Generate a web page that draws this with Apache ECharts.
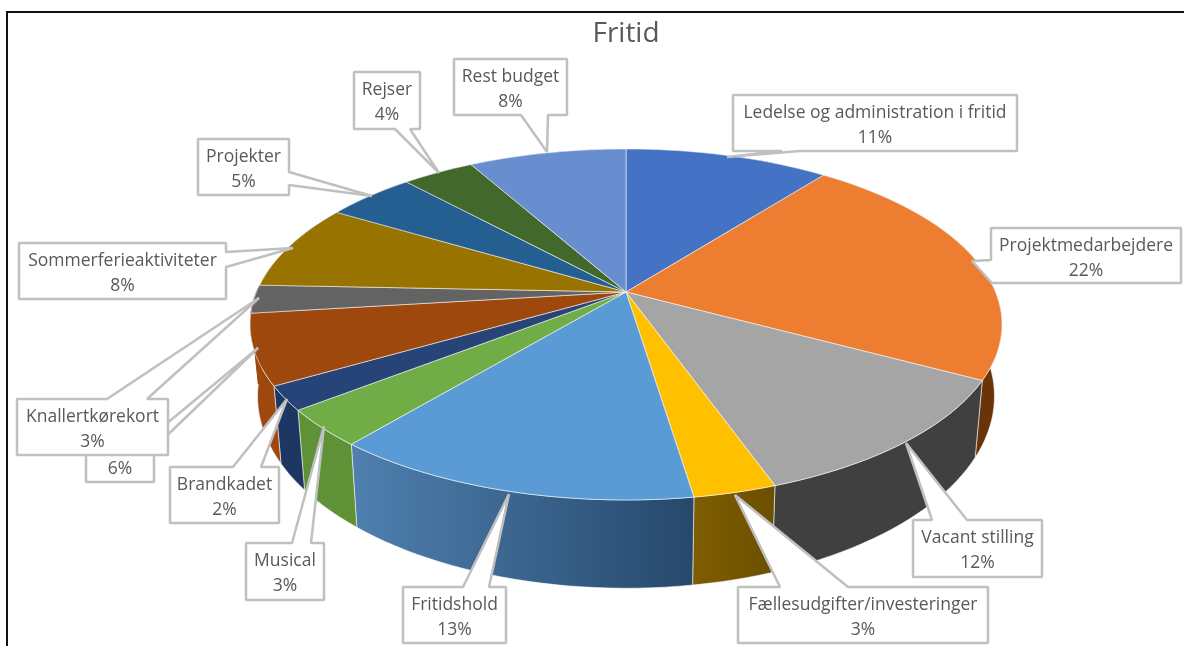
<!DOCTYPE html>
<html><head><meta charset="utf-8">
<style>html,body{margin:0;padding:0;background:#fff}#c{width:1184px;height:646px}</style>
<script src="https://cdn.jsdelivr.net/npm/echarts@6/dist/echarts.min.js"></script>
</head><body><div id="c"></div>
<script>
// --- data ---
const chartTitle = 'Fritid';
const categories = ['Ledelse og administration i fritid','Projektmedarbejdere','Vacant stilling','Fællesudgifter/investeringer','Fritidshold','Musical','Brandkadet','','Knallertkørekort','Sommerferieaktiviteter','Projekter','Rejser','Rest budget'];
const values = [10.5,22.4,11.7,3,13.4,3.4,2.2,6.45,2.6,7.95,4.6,3.7,8.1];
// --- styles ---
const topColors = ['#4472c4','#ed7d31','#a5a5a5','#ffc000','#5b9bd5','#70ad47','#264478','#9e480e','#636363','#997300','#255e91','#43682b','#698ed0'];
const wallFrom = ['#2f5597','#6b3309','#404040','#7f5e00','#4f80b0','#5f9137','#1d3763','#9e480e','#9e480e','#7f5e00','#1d4a72','#33501f','#4a6ea8'];
const wallTo   = ['#2f5597','#6b3309','#404040','#6b4f00','#26486b','#5f9137','#1d3763','#9e480e','#9e480e','#7f5e00','#1d4a72','#33501f','#4a6ea8'];
const seamLight = 'rgba(255,255,255,0.55)';
const wallStroke = [seamLight,seamLight,seamLight,seamLight,seamLight,seamLight,seamLight,seamLight,'#9e480e',seamLight,seamLight,seamLight,seamLight];
// --- pie projection (perspective disc) ---
const view = {cx:626, cy:292, a:369.5, b:169.5, k:0.185, lowScaleX:0.98, lowScaleY:1.094, lowCy:360.7};
function rim(pct){
  const t = pct/100*2*Math.PI, u = Math.sin(t), v = -Math.cos(t), d = 1-view.k*v;
  return [view.cx+view.a*u/d, view.cy+view.b*v/d];
}
function low(p){ return [view.cx+view.lowScaleX*(p[0]-view.cx), view.lowCy+view.lowScaleY*(p[1]-view.cy)]; }
function arc(from,to){
  const n = Math.max(2,Math.ceil((to-from)*2)), out=[];
  for(let i=0;i<=n;i++) out.push(rim(from+(to-from)*i/n));
  return out;
}
const starts = []; values.reduce((s,v,i)=>{starts[i]=s;return s+v;},0);
// --- callout layout: box [l,t,r,b], side the wedge leaves from, wedge [a, tip, b] clockwise ---
const boxes = [[733,95,1017,151],[991,228,1181,283],[913,520,1042,577],[738,587,988,643],[403,587,506,643],[246,543,324,600],[170,467,279,523],[86,426,154,482],[17,399,168,455],[19,243,226,299],[198,139,289,195],[354,72,420,129],[454,59,567,115]];
const sides = ['bottom','left','top','top','top','top','top','right','top','right','right','bottom','bottom'];
const wedges = [
 [[800,151],[727,157],[782,151]],
 [[991,282],[972,261],[991,260]],
 [[932,520],[906,443],[967,520]],
 [[780,587],[735,495],[848,587]],
 [[463,587],[509,494],[489,587]],
 [[292,543],[324,426],[311,543]],
 [[233,467],[287,399],[261,467]],
 [[154,434],[258,348],[154,448]],
 [[107,399],[259,298],[147,399]],
 [[226,252],[293,248],[226,267]],
 [[289,172],[372,196],[289,185]],
 [[410,129],[439,173],[395,129]],
 [[548,115],[547,152],[521,115]]
];
function calloutPoints(i){
  const [l,t,r,b]=boxes[i], w=wedges[i], s=sides[i];
  const pts=[[l,t]];
  if(s==='top') pts.push(...w);
  pts.push([r,t]);
  if(s==='right') pts.push(...w);
  pts.push([r,b]);
  if(s==='bottom') pts.push(...w);
  pts.push([l,b]);
  if(s==='left') pts.push(...w);
  return pts;
}
const seriesData = values.map(v=>[v]);
const labelFont = '17.5px "Open Sans"';
const option = {
  animation:false,
  backgroundColor:'#fff',
  title:{text:chartTitle,left:621,top:15,textAlign:'center',textStyle:{fontFamily:'Open Sans',fontSize:28,fontWeight:'normal',color:'#595959'}},
  graphic:[
    {type:'line',shape:{x1:7,y1:12,x2:1184,y2:12},style:{stroke:'#111',lineWidth:2}},
    {type:'line',shape:{x1:7,y1:11,x2:7,y2:646},style:{stroke:'#111',lineWidth:2}}
  ],
  series:[
    {type:'custom',coordinateSystem:'none',silent:true,z:2,data:seriesData,
     renderItem(params,api){
      const i=params.dataIndex, s=starts[i], top=arc(s,s+api.value(0));
      const pts=top.concat(top.slice().reverse().map(low));
      return {type:'polygon',shape:{points:pts},style:{
        fill:new echarts.graphic.LinearGradient(0,0,1,0,[{offset:0,color:wallFrom[i]},{offset:1,color:wallTo[i]}]),
        stroke:wallStroke[i],lineWidth:1}};
     }},
    {type:'custom',coordinateSystem:'none',silent:true,z:3,data:seriesData,
     renderItem(params,api){
      const i=params.dataIndex, s=starts[i], top=arc(s,s+api.value(0));
      return {type:'polygon',shape:{points:[[view.cx,view.cy]].concat(top)},style:{
        fill:topColors[i],stroke:seamLight,lineWidth:1}};
     }},
    {type:'custom',coordinateSystem:'none',silent:true,z:4,data:seriesData,
     renderItem(params,api){
      const i=params.dataIndex, [l,t,r]=boxes[i], cx=(l+r)/2;
      const kids=[{type:'polygon',shape:{points:calloutPoints(i)},style:{fill:'#fff',stroke:'#c0c0c0',lineWidth:2.5,lineJoin:'bevel'}}];
      if(categories[i]) kids.push({type:'text',style:{text:categories[i],x:cx,y:t+18,align:'center',verticalAlign:'middle',font:labelFont,fill:'#595959'}});
      kids.push({type:'text',style:{text:Math.round(api.value(0))+'%',x:cx,y:t+43,align:'center',verticalAlign:'middle',font:labelFont,fill:'#595959'}});
      return {type:'group',children:kids};
     }}
  ]
};
echarts.init(document.getElementById('c'),null,{renderer:'canvas'}).setOption(option);
</script></body></html>
